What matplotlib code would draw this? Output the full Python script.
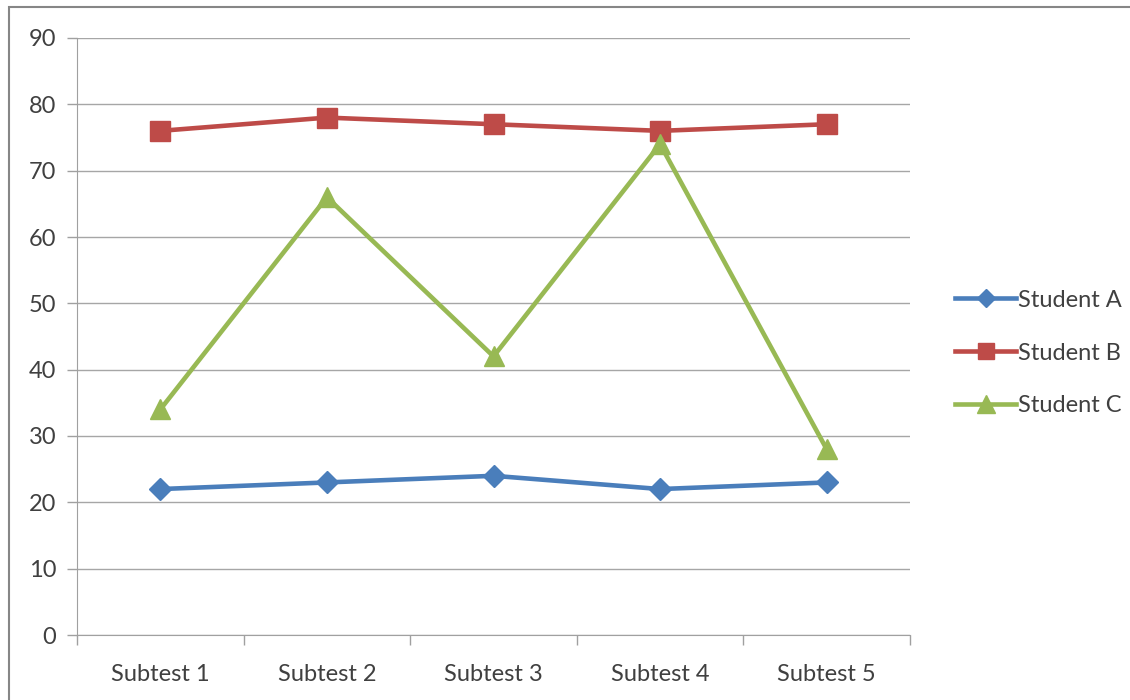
import matplotlib
matplotlib.use("Agg")
import matplotlib.pyplot as plt
from matplotlib.patches import Rectangle
from matplotlib.lines import Line2D

categories = ["Subtest 1", "Subtest 2", "Subtest 3", "Subtest 4", "Subtest 5"]
student_a = [22, 23, 24, 22, 23]
student_b = [76, 78, 77, 76, 77]
student_c = [34, 66, 42, 74, 28]
series_names = ["Student A", "Student B", "Student C"]
y_ticks = [0, 10, 20, 30, 40, 50, 60, 70, 80, 90]

plt.rcParams['font.family'] = ['Lato', 'DejaVu Sans']

W, H = 1130, 700
fig = plt.figure(figsize=(W / 100, H / 100), dpi=100)
ax = fig.add_axes([77 / W, 1 - 635 / H, (910 - 77) / W, (635 - 38) / H])

# outer chart border
fig.patches.append(Rectangle((9 / W, -0.01), 1.2, 1 - 7 / H + 0.01, transform=fig.transFigure,
                             fill=False, edgecolor="#868686", linewidth=1.5))

x = list(range(len(categories)))
colors = ["#4a7ebb", "#be4b48", "#98b954"]
markers = ["D", "s", "^"]
msizes = [11, 14, 15]
for vals, name, c, m, ms in zip([student_a, student_b, student_c], series_names, colors, markers, msizes):
    ax.plot(x, vals, color=c, linewidth=3.3, marker=m, markersize=ms, markeredgecolor=c,
            label=name, zorder=3)

ax.set_xlim(-0.5, len(categories) - 0.5)
ax.set_ylim(0, 90)
ax.set_yticks(y_ticks)
ax.set_xticks(x)
ax.set_xticklabels(categories)
ax.set_xticks([i - 0.5 for i in range(len(categories) + 1)], minor=True)
ax.tick_params(axis='x', which='major', length=0, pad=21, labelsize=17, colors="#404040")
ax.tick_params(axis='x', which='minor', length=7, color="#a0a0a0", width=1)
ax.tick_params(axis='y', length=7, color="#a0a0a0", width=1, pad=8, labelsize=17, labelcolor="#404040")
ax.grid(axis='y', color="#a6a6a6", linewidth=1)
ax.set_axisbelow(True)
for s in ["top", "right"]:
    ax.spines[s].set_visible(False)
ax.spines["left"].set_color("#a0a0a0")
ax.spines["bottom"].set_color("#a0a0a0")

handles = [Line2D([], [], color=c, linewidth=3.3, marker=m, markersize=ms * 0.85, markeredgecolor=c)
           for c, m, ms in zip(colors, markers, msizes)]
fig.legend(handles, series_names, loc="center left", bbox_to_anchor=(955 / W, 1 - 353 / H),
           frameon=False, fontsize=17, handlelength=2.6, handletextpad=0.05, labelspacing=1.35,
           labelcolor="#404040", borderpad=0, borderaxespad=0)

fig.savefig("out.png", dpi=100, facecolor="white")
